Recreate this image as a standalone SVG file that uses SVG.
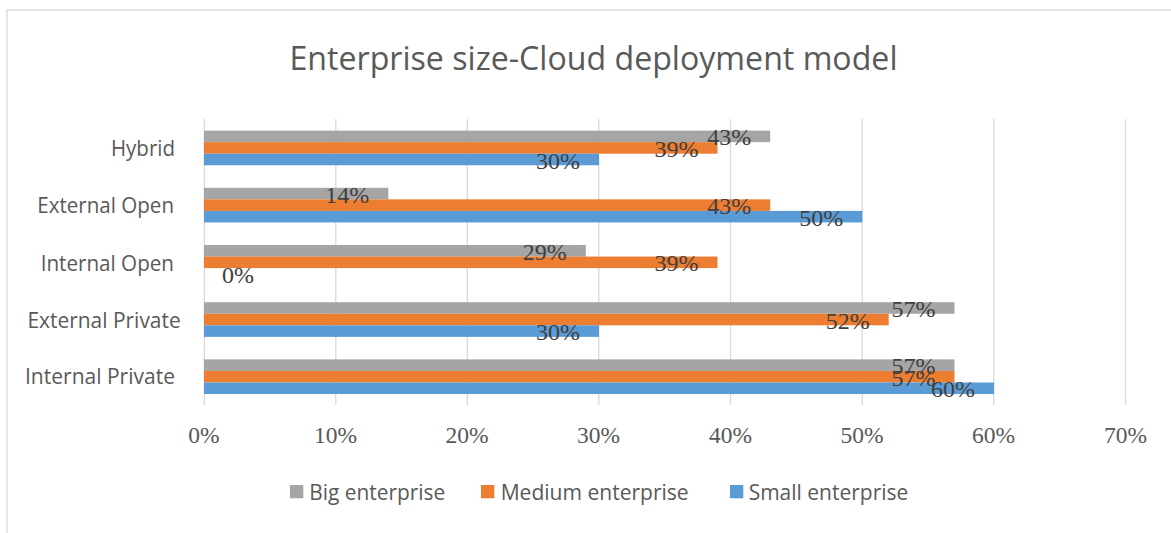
<svg xmlns="http://www.w3.org/2000/svg" width="1171" height="533" viewBox="0 0 1171 533">
<style>
.frame{fill:#fff;stroke:#d9d9d9;stroke-width:1.3}
.grid{stroke:#d9d9d9;stroke-width:1.3}
.big{fill:#a5a5a5}
.med{fill:#ed7d31}
.sml{fill:#5b9bd5}
.cat{font-family:"Open Sans","Noto Sans",sans-serif;font-size:21px;fill:#595959;text-anchor:end}
.title{font-family:"Open Sans","Noto Sans",sans-serif;font-size:32px;fill:#595959;text-anchor:middle}
.leg{font-family:"Open Sans","Noto Sans",sans-serif;font-size:21px;fill:#595959}
.ax{font-family:"Liberation Serif","Times New Roman",serif;font-size:23.5px;fill:#595959;text-anchor:middle}
.dl{font-family:"Liberation Serif","Times New Roman",serif;font-size:24px;fill:#404040;text-anchor:end}
</style>
<rect width="1171" height="533" fill="#fff"/>
<rect class="frame" x="7" y="10" width="1200" height="600"/>
<text class="title" x="593.5" y="70" textLength="608" lengthAdjust="spacingAndGlyphs">Enterprise size-Cloud deployment model</text>
<g id="gridlines">
<line class="grid" x1="204.3" y1="119" x2="204.3" y2="405"/>
<line class="grid" x1="335.8" y1="119" x2="335.8" y2="405"/>
<line class="grid" x1="467.3" y1="119" x2="467.3" y2="405"/>
<line class="grid" x1="598.8" y1="119" x2="598.8" y2="405"/>
<line class="grid" x1="730.5" y1="119" x2="730.5" y2="405"/>
<line class="grid" x1="862.2" y1="119" x2="862.2" y2="405"/>
<line class="grid" x1="993.8" y1="119" x2="993.8" y2="405"/>
<line class="grid" x1="1125.5" y1="119" x2="1125.5" y2="405"/>
</g>
<g id="axis-labels">
<text class="ax" x="204" y="443.3">0%</text>
<text class="ax" x="335.5" y="443.3">10%</text>
<text class="ax" x="467" y="443.3">20%</text>
<text class="ax" x="598.5" y="443.3">30%</text>
<text class="ax" x="730.5" y="443.3">40%</text>
<text class="ax" x="862" y="443.3">50%</text>
<text class="ax" x="993.5" y="443.3">60%</text>
<text class="ax" x="1125.5" y="443.3">70%</text>
</g>
<g id="cat-hybrid">
<text class="cat" x="175" y="156" textLength="64" lengthAdjust="spacingAndGlyphs">Hybrid</text>
<rect class="big" x="204" y="130.6" width="566.2" height="11.55"/>
<rect class="med" x="204" y="142.15" width="513.5" height="11.55"/>
<rect class="sml" x="204" y="153.7" width="395" height="11.55"/>
<text class="dl" x="751.2" y="145.4">43%</text>
<text class="dl" x="698.5" y="156.9">39%</text>
<text class="dl" x="580" y="168.5">30%</text>
</g>
<g id="cat-external-open">
<text class="cat" x="174" y="213.3" textLength="136.7" lengthAdjust="spacingAndGlyphs">External Open</text>
<rect class="big" x="204" y="187.8" width="184.3" height="11.55"/>
<rect class="med" x="204" y="199.35" width="566.2" height="11.55"/>
<rect class="sml" x="204" y="210.9" width="658.3" height="11.55"/>
<text class="dl" x="369.3" y="202.6">14%</text>
<text class="dl" x="751.2" y="214.1">43%</text>
<text class="dl" x="843.3" y="225.7">50%</text>
</g>
<g id="cat-internal-open">
<text class="cat" x="174" y="270.7" textLength="133.3" lengthAdjust="spacingAndGlyphs">Internal Open</text>
<rect class="big" x="204" y="245" width="381.8" height="11.55"/>
<rect class="med" x="204" y="256.55" width="513.5" height="11.55"/>
<text class="dl" x="566.8" y="259.8">29%</text>
<text class="dl" x="698.5" y="271.3">39%</text>
<text class="dl" x="222" y="282.9" style="text-anchor:start">0%</text>
</g>
<g id="cat-external-private">
<text class="cat" x="180.7" y="327.7" textLength="153.3" lengthAdjust="spacingAndGlyphs">External Private</text>
<rect class="big" x="204" y="302.2" width="750.5" height="11.55"/>
<rect class="med" x="204" y="313.75" width="684.7" height="11.55"/>
<rect class="sml" x="204" y="325.3" width="395" height="11.55"/>
<text class="dl" x="935.5" y="317">57%</text>
<text class="dl" x="869.7" y="328.5">52%</text>
<text class="dl" x="580" y="340.1">30%</text>
</g>
<g id="cat-internal-private">
<text class="cat" x="175" y="384.3" textLength="150" lengthAdjust="spacingAndGlyphs">Internal Private</text>
<rect class="big" x="204" y="359.4" width="750.5" height="11.55"/>
<rect class="med" x="204" y="370.95" width="750.5" height="11.55"/>
<rect class="sml" x="204" y="382.5" width="790" height="11.55"/>
<text class="dl" x="935.5" y="374.2">57%</text>
<text class="dl" x="935.5" y="385.7">57%</text>
<text class="dl" x="975" y="397.3">60%</text>
</g>
<g id="legend">
<rect class="big" x="290" y="485" width="13.3" height="13.3"/>
<text class="leg" x="309.3" y="500" textLength="136" lengthAdjust="spacingAndGlyphs">Big enterprise</text>
<rect class="med" x="481" y="485" width="13.3" height="13.3"/>
<text class="leg" x="500.7" y="500" textLength="188" lengthAdjust="spacingAndGlyphs">Medium enterprise</text>
<rect class="sml" x="730" y="485" width="13.3" height="13.3"/>
<text class="leg" x="748.7" y="500" textLength="159.6" lengthAdjust="spacingAndGlyphs">Small enterprise</text>
</g>
</svg>
